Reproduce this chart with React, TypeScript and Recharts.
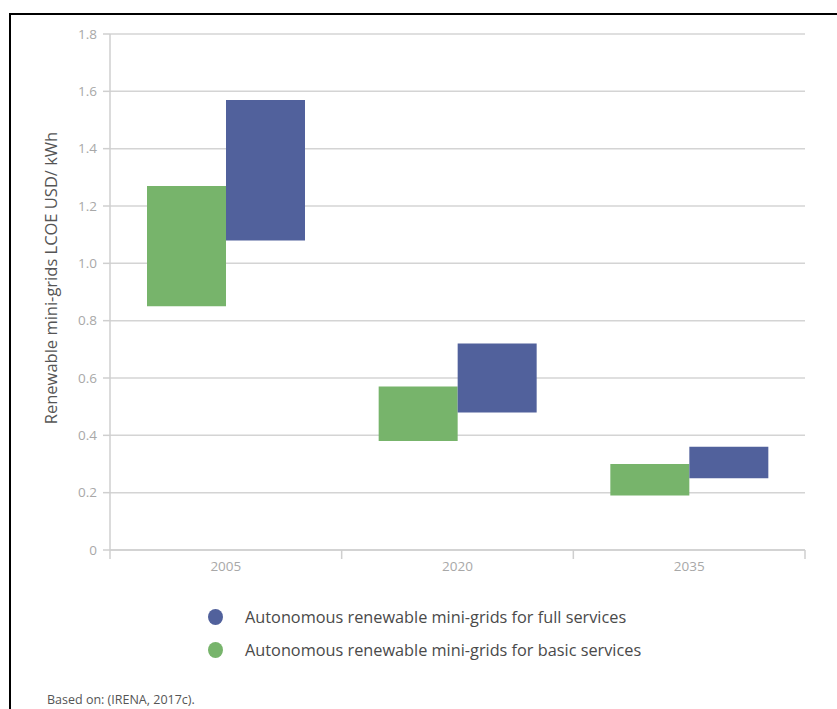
import { BarChart, Bar, XAxis, YAxis, CartesianGrid } from "recharts";

// LCOE ranges (USD/kWh)
const years = ["2005", "2020", "2035"];
const basicLow = [0.85, 0.38, 0.19];
const basicHigh = [1.27, 0.57, 0.3];
const fullLow = [1.08, 0.48, 0.25];
const fullHigh = [1.57, 0.72, 0.36];
const yTicks = [0, 0.2, 0.4, 0.6, 0.8, 1.0, 1.2, 1.4, 1.6, 1.8];

const seriesNames = {
  full: "Autonomous renewable mini-grids for full services",
  basic: "Autonomous renewable mini-grids for basic services",
};
const GREEN = "#77b46b";
const BLUE = "#51619c";
const AXIS_GREY = "#cfcfcf";

const data = years.map((year, i) => ({
  year,
  basic: [basicLow[i], basicHigh[i]],
  full: [fullLow[i], fullHigh[i]],
}));

const FONT = "'Open Sans', sans-serif";

// category label + small tick marks on the band edges (not the centres)
const YearTick = (props: any) => {
  const { x, y, payload, index, visibleTicksCount } = props;
  const half = payload?.offset ?? 0;
  const isLast = index === visibleTicksCount - 1;
  return (
    <g>
      <line x1={x - half} x2={x - half} y1={y} y2={y + 9} stroke={AXIS_GREY} strokeWidth={1.5} />
      {isLast && (
        <line x1={x + half} x2={x + half} y1={y} y2={y + 9} stroke={AXIS_GREY} strokeWidth={1.5} />
      )}
      <text
        x={x}
        y={y + 11}
        dy="0.71em"
        textAnchor="middle"
        fill="#a8a8a8"
        fontSize={13.5}
        fontFamily={FONT}
      >
        {payload.value}
      </text>
    </g>
  );
};

export default function App() {
  const tickStyle = { fill: "#a8a8a8", fontSize: 13.5, fontFamily: FONT };

  return (
    <div
      style={{
        position: "fixed",
        left: 0,
        top: 0,
        width: 837,
        height: 709,
        overflow: "hidden",
        background: "#fff",
        fontFamily: FONT,
      }}
    >
      {/* frame, only top and left edges are visible */}
      <div
        style={{
          position: "absolute",
          left: 9,
          top: 13,
          width: 840,
          height: 720,
          borderTop: "2px solid #000",
          borderLeft: "2px solid #000",
        }}
      />

      <div style={{ position: "absolute", left: 0, top: 0 }}>
        <BarChart
          width={837}
          height={600}
          data={data}
          margin={{ top: 34, right: 32, left: 50, bottom: 20 }}
          barGap={0}
          barSize={79}
        >
          <CartesianGrid vertical={false} stroke="#d4d4d4" strokeWidth={1.5} />
          <XAxis
            dataKey="year"
            height={30}
            tickSize={0}
            tickMargin={0}
            interval={0}
            axisLine={{ stroke: AXIS_GREY, strokeWidth: 1.5 }}
            tickLine={false}
            tick={<YearTick />}
          />
          <YAxis
            width={60}
            domain={[0, 1.8]}
            ticks={yTicks}
            interval={0}
            tickFormatter={(v: number) => (v === 0 ? "0" : v.toFixed(1))}
            tick={tickStyle}
            tickSize={7}
            tickMargin={6}
            axisLine={{ stroke: AXIS_GREY, strokeWidth: 1.5 }}
            tickLine={{ stroke: AXIS_GREY, strokeWidth: 1.5 }}
            label={{
              content: ({ viewBox }: any) => {
                const cx = viewBox.x;
                const cy = viewBox.y + viewBox.height / 2 - 14;
                return (
                  <text
                    x={cx}
                    y={cy}
                    transform={`rotate(-90, ${cx}, ${cy})`}
                    textAnchor="middle"
                    dominantBaseline="central"
                    fill="#555"
                    fontSize={16.5}
                    fontFamily={FONT}
                  >
                    Renewable mini-grids LCOE USD/ kWh
                  </text>
                );
              },
            }}
          />
          <Bar dataKey="basic" name={seriesNames.basic} fill={GREEN} isAnimationActive={false} />
          <Bar dataKey="full" name={seriesNames.full} fill={BLUE} isAnimationActive={false} />
        </BarChart>
      </div>

      {/* legend */}
      <div style={{ position: "absolute", left: 208, top: 600 }}>
        {[
          { name: seriesNames.full, color: BLUE },
          { name: seriesNames.basic, color: GREEN },
        ].map((s) => (
          <div key={s.name} style={{ display: "flex", alignItems: "center", height: 33 }}>
            <span
              style={{
                width: 15,
                height: 16,
                borderRadius: "50%",
                background: s.color,
                display: "inline-block",
                marginRight: 22,
              }}
            />
            <span style={{ fontSize: 16.3, color: "#4a4a4a" }}>{s.name}</span>
          </div>
        ))}
      </div>

      <div style={{ position: "absolute", left: 47, top: 691, fontSize: 12.5, color: "#555" }}>
        Based on: (IRENA, 2017c).
      </div>
    </div>
  );
}
